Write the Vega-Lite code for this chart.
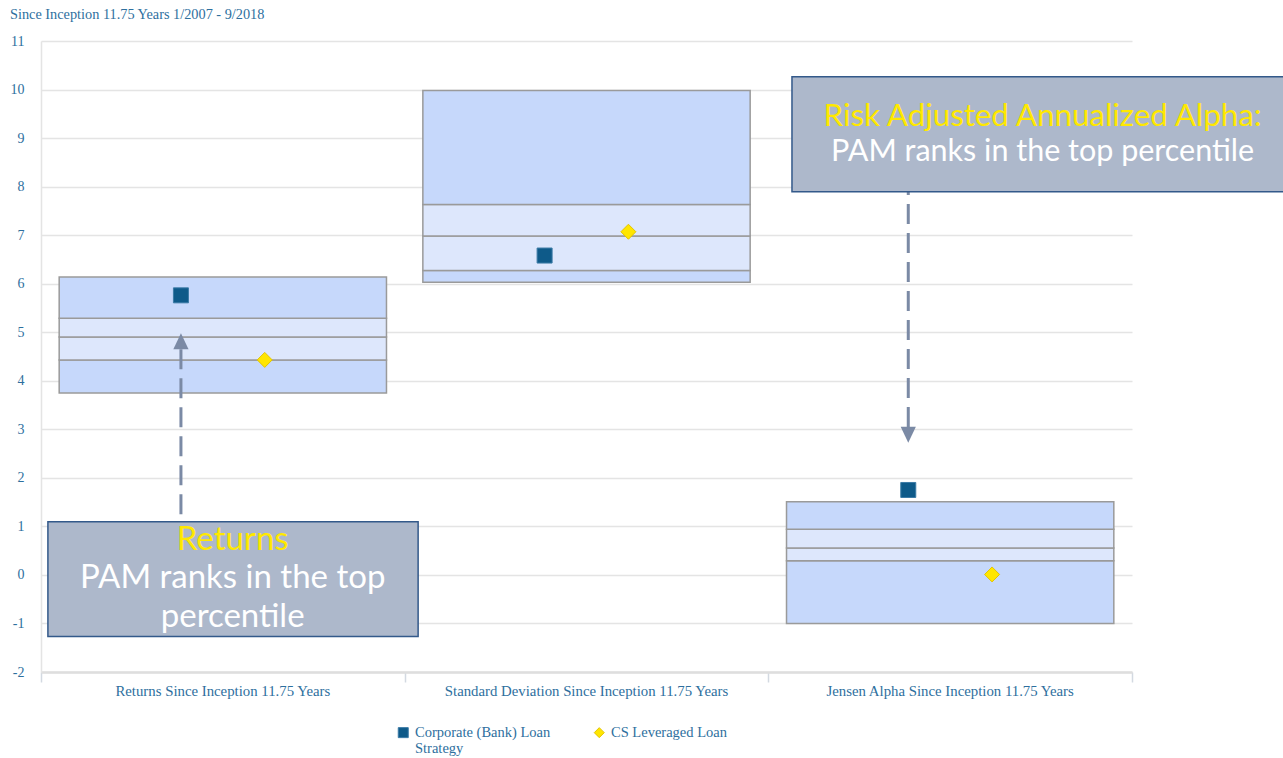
{
  "$schema": "https://vega.github.io/schema/vega-lite/v6.json",
  "width": 1091,
  "height": 631,
  "autosize": {"type": "none"},
  "padding": {"left": 41, "top": 41, "right": 151, "bottom": 86},
  "background": "white",
  "title": {
    "text": "Since Inception 11.75 Years 1/2007 - 9/2018",
    "anchor": "start",
    "frame": "group",
    "dx": -31,
    "offset": 12,
    "font": "Liberation Serif",
    "fontSize": 14.3,
    "fontWeight": "normal",
    "color": "#2e6f9e"
  },
  "datasets": {
    "boxes": [
      {"measure": "Returns Since Inception 11.75 Years", "band": "outer", "low": 3.75, "high": 4.43},
      {"measure": "Returns Since Inception 11.75 Years", "band": "inner", "low": 4.43, "high": 4.9},
      {"measure": "Returns Since Inception 11.75 Years", "band": "inner", "low": 4.9, "high": 5.29},
      {"measure": "Returns Since Inception 11.75 Years", "band": "outer", "low": 5.29, "high": 6.14},
      {"measure": "Standard Deviation Since Inception 11.75 Years", "band": "outer", "low": 6.03, "high": 6.27},
      {"measure": "Standard Deviation Since Inception 11.75 Years", "band": "inner", "low": 6.27, "high": 6.98},
      {"measure": "Standard Deviation Since Inception 11.75 Years", "band": "inner", "low": 6.98, "high": 7.63},
      {"measure": "Standard Deviation Since Inception 11.75 Years", "band": "outer", "low": 7.63, "high": 9.98},
      {"measure": "Jensen Alpha Since Inception 11.75 Years", "band": "outer", "low": -1.0, "high": 0.29},
      {"measure": "Jensen Alpha Since Inception 11.75 Years", "band": "inner", "low": 0.29, "high": 0.555},
      {"measure": "Jensen Alpha Since Inception 11.75 Years", "band": "inner", "low": 0.555, "high": 0.94},
      {"measure": "Jensen Alpha Since Inception 11.75 Years", "band": "outer", "low": 0.94, "high": 1.51}
    ],
    "points": [
      {"measure": "Returns Since Inception 11.75 Years", "series": "Corporate (Bank) Loan Strategy", "value": 5.76},
      {"measure": "Returns Since Inception 11.75 Years", "series": "CS Leveraged Loan", "value": 4.43},
      {"measure": "Standard Deviation Since Inception 11.75 Years", "series": "Corporate (Bank) Loan Strategy", "value": 6.58},
      {"measure": "Standard Deviation Since Inception 11.75 Years", "series": "CS Leveraged Loan", "value": 7.07},
      {"measure": "Jensen Alpha Since Inception 11.75 Years", "series": "Corporate (Bank) Loan Strategy", "value": 1.75},
      {"measure": "Jensen Alpha Since Inception 11.75 Years", "series": "CS Leveraged Loan", "value": 0.01}
    ],
    "arrows": [
      {"measure": "Returns Since Inception 11.75 Years", "series": "Corporate (Bank) Loan Strategy", "dir": "up", "start": 4.649, "end": 1.097, "tip": 4.813},
      {"measure": "Jensen Alpha Since Inception 11.75 Years", "series": "Corporate (Bank) Loan Strategy", "dir": "down", "start": 3.048, "end": 7.895, "tip": 2.889}
    ],
    "notes": [
      {"note": "Returns", "heading": "Returns", "body": "PAM ranks in the top\npercentile", "left": 0.019, "right": 1.037, "top": 1.097, "bottom": -1.27, "center": 0.527, "headingY": 0.514, "bodyY": -0.269},
      {"note": "Alpha", "heading": "Risk Adjusted Annualized Alpha:", "body": "PAM ranks in the top percentile", "left": 2.065, "right": 3.45, "top": 10.265, "bottom": 7.895, "center": 2.754, "headingY": 9.25, "bodyY": 8.52}
    ]
  },
  "resolve": {"scale": {"x": "independent"}, "axis": {"x": "independent"}},
  "layer": [
    {
      "layer": [
        {
          "data": {"name": "boxes"},
          "mark": {"type": "rect", "stroke": "#9a9a9a", "strokeWidth": 1.5},
          "encoding": {
            "x": {
              "field": "measure", "type": "nominal",
              "scale": {"domain": ["Returns Since Inception 11.75 Years", "Standard Deviation Since Inception 11.75 Years", "Jensen Alpha Since Inception 11.75 Years"], "paddingInner": 0.1, "paddingOuter": 0.05},
              "axis": {"orient": "bottom", "title": null, "ticks": false, "domain": false, "grid": false, "labelAngle": 0, "labelPadding": 11, "labelLimit": 500, "labelFont": "Liberation Serif", "labelFontSize": 14.8, "labelColor": "#2e6f9e"}
            },
            "y": {"field": "low", "type": "quantitative", "title": null, "scale": {"domain": [-2, 11], "nice": false, "zero": false}},
            "y2": {"field": "high"},
            "fill": {"field": "band", "type": "nominal", "scale": {"domain": ["outer", "inner"], "range": ["#c6d8fb", "#dde7fc"]}, "legend": null}
          }
        },
        {
          "data": {"name": "arrows"},
          "mark": {"type": "rule", "color": "#7b8aa5", "strokeWidth": 3, "strokeDash": [20, 9]},
          "encoding": {
            "x": {"field": "measure", "type": "nominal"},
            "xOffset": {"field": "series", "type": "nominal"},
            "y": {"field": "start", "type": "quantitative", "title": null},
            "y2": {"field": "end"}
          }
        },
        {
          "data": {"name": "arrows"},
          "transform": [{"filter": "datum.dir == 'up'"}],
          "mark": {"type": "point", "shape": "M0,-1L-0.95,1L0.95,1Z", "size": 256, "filled": true, "color": "#7b8aa5", "opacity": 1},
          "encoding": {
            "x": {"field": "measure", "type": "nominal"},
            "xOffset": {"field": "series", "type": "nominal"},
            "y": {"field": "tip", "type": "quantitative", "title": null}
          }
        },
        {
          "data": {"name": "arrows"},
          "transform": [{"filter": "datum.dir == 'down'"}],
          "mark": {"type": "point", "shape": "M0,1L-0.95,-1L0.95,-1Z", "size": 256, "filled": true, "color": "#7b8aa5", "opacity": 1},
          "encoding": {
            "x": {"field": "measure", "type": "nominal"},
            "xOffset": {"field": "series", "type": "nominal"},
            "y": {"field": "tip", "type": "quantitative", "title": null}
          }
        },
        {
          "data": {"name": "points"},
          "mark": {"type": "point", "filled": true, "size": 225, "strokeWidth": 1, "opacity": 1},
          "encoding": {
            "x": {"field": "measure", "type": "nominal"},
            "xOffset": {"field": "series", "type": "nominal", "scale": {"domain": ["Corporate (Bank) Loan Strategy", "CS Leveraged Loan"], "paddingInner": 0, "paddingOuter": 0.953}},
            "y": {"field": "value", "type": "quantitative", "title": null},
            "color": {"field": "series", "type": "nominal", "title": null, "scale": {"domain": ["Corporate (Bank) Loan Strategy", "CS Leveraged Loan"], "range": ["#0e5a89", "#ffe600"]},
              "legend": {"labelExpr": "datum.label == 'Corporate (Bank) Loan Strategy' ? ['Corporate (Bank) Loan', 'Strategy'] : [datum.label, ' ']"}},
            "shape": {"field": "series", "type": "nominal", "title": null, "scale": {"domain": ["Corporate (Bank) Loan Strategy", "CS Leveraged Loan"], "range": ["square", "diamond"]},
              "legend": {"labelExpr": "datum.label == 'Corporate (Bank) Loan Strategy' ? ['Corporate (Bank) Loan', 'Strategy'] : [datum.label, ' ']"}},
            "stroke": {"field": "series", "type": "nominal", "title": null, "scale": {"domain": ["Corporate (Bank) Loan Strategy", "CS Leveraged Loan"], "range": ["#3b7ba6", "#e3c400"]},
              "legend": {"labelExpr": "datum.label == 'Corporate (Bank) Loan Strategy' ? ['Corporate (Bank) Loan', 'Strategy'] : [datum.label, ' ']"}}
          }
        }
      ]
    },
    {
      "data": {"name": "notes"},
      "layer": [
        {
          "mark": {"type": "rect", "fill": "#adb8cb", "stroke": "#33598a", "strokeWidth": 1.5},
          "encoding": {
            "x": {
              "field": "left", "type": "quantitative",
              "scale": {"domain": [0, 3], "nice": false, "zero": false},
              "axis": {"orient": "bottom", "title": null, "values": [0, 1, 2, 3], "labels": false, "grid": false, "ticks": true, "tickSize": 10, "tickColor": "#d3d9e1", "tickWidth": 1.5, "domain": true, "domainColor": "#dedede", "domainWidth": 2.5}
            },
            "x2": {"field": "right"},
            "y": {"field": "top", "type": "quantitative", "title": null},
            "y2": {"field": "bottom"}
          }
        },
        {
          "transform": [{"filter": "datum.note == 'Returns'"}],
          "mark": {"type": "text", "font": "Lato", "fontSize": 33, "color": "#ffe800", "align": "center", "baseline": "alphabetic"},
          "encoding": {
            "x": {"field": "center", "type": "quantitative"},
            "y": {"field": "headingY", "type": "quantitative", "title": null},
            "text": {"field": "heading"}
          }
        },
        {
          "transform": [{"filter": "datum.note == 'Returns'"}],
          "mark": {"type": "text", "font": "Lato", "fontSize": 33, "color": "#ffffff", "align": "center", "baseline": "alphabetic", "lineBreak": "\n", "lineHeight": 39},
          "encoding": {
            "x": {"field": "center", "type": "quantitative"},
            "y": {"field": "bodyY", "type": "quantitative", "title": null},
            "text": {"field": "body"}
          }
        },
        {
          "transform": [{"filter": "datum.note == 'Alpha'"}],
          "mark": {"type": "text", "font": "Lato", "fontSize": 31.3, "color": "#ffe800", "align": "center", "baseline": "alphabetic"},
          "encoding": {
            "x": {"field": "center", "type": "quantitative"},
            "y": {"field": "headingY", "type": "quantitative", "title": null},
            "text": {"field": "heading"}
          }
        },
        {
          "transform": [{"filter": "datum.note == 'Alpha'"}],
          "mark": {"type": "text", "font": "Lato", "fontSize": 30.5, "color": "#ffffff", "align": "center", "baseline": "alphabetic"},
          "encoding": {
            "x": {"field": "center", "type": "quantitative"},
            "y": {"field": "bodyY", "type": "quantitative", "title": null},
            "text": {"field": "body"}
          }
        }
      ]
    }
  ],
  "config": {
    "view": {"stroke": null},
    "axisY": {
      "values": [-2, -1, 0, 1, 2, 3, 4, 5, 6, 7, 8, 9, 10, 11],
      "labelExpr": "'' + datum.value",
      "grid": true, "gridColor": "#e4e4e4", "gridWidth": 1.5,
      "domain": true, "domainColor": "#e4e4e4", "domainWidth": 1.5,
      "ticks": false, "labelPadding": 17,
      "labelFont": "Liberation Serif", "labelFontSize": 14, "labelColor": "#2e6f9e"
    },
    "legend": {
      "orient": "none",
      "legendX": 355,
      "legendY": 684,
      "direction": "horizontal",
      "columnPadding": 41,
      "symbolSize": 100,
      "symbolStrokeWidth": 1,
      "labelOffset": 4.5,
      "labelFont": "Liberation Serif",
      "labelFontSize": 14.5,
      "labelColor": "#2e6f9e",
      "labelLimit": 300
    }
  }
}
